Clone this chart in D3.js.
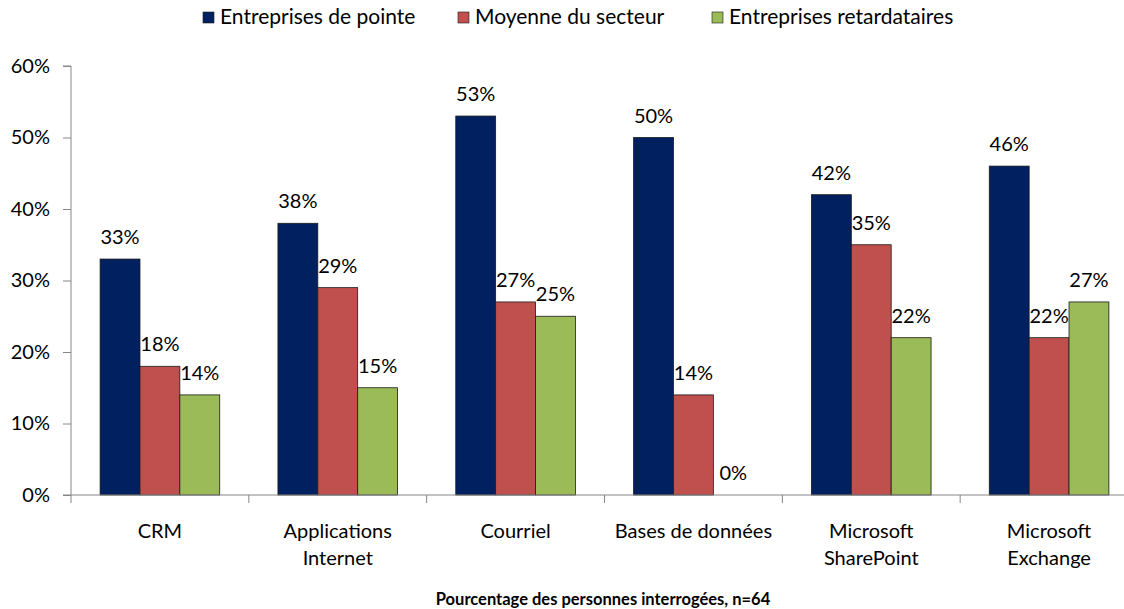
<!DOCTYPE html>
<html>
<head>
<meta charset="utf-8">
<script src="https://cdn.jsdelivr.net/npm/d3@7"></script>
<style>
  body { margin: 0; background: #fff; }
  svg { font-family: Lato, "Open Sans", sans-serif; }
</style>
</head>
<body>
<div id="chart"></div>
<script>
const categories = [["CRM"], ["Applications", "Internet"], ["Courriel"], ["Bases de données"], ["Microsoft", "SharePoint"], ["Microsoft", "Exchange"]];
const seriesNames = ["Entreprises de pointe", "Moyenne du secteur", "Entreprises retardataires"];
const leaders = [33, 38, 53, 50, 42, 46];
const average = [18, 29, 27, 14, 35, 22];
const laggards = [14, 15, 25, 0, 22, 27];
const yTicks = [0, 10, 20, 30, 40, 50, 60];
const colors = ["#002060", "#C0504D", "#9BBB59"];

const width = 1124, height = 609;
const svg = d3.select("#chart").append("svg")
  .attr("width", width).attr("height", height);

// plot area runs past the right edge, as in the original crop
const x0 = d3.scaleBand().domain(d3.range(categories.length)).range([71, 1138]);
const x1 = d3.scaleBand().domain(d3.range(3)).range([0, x0.bandwidth()]).paddingOuter(0.73).paddingInner(0);
const y = d3.scaleLinear().domain([0, 60]).range([495, 66]);

const axisColor = "#868686";

// Y axis
const yAxis = svg.append("g")
  .attr("transform", "translate(71,0)")
  .call(d3.axisLeft(y).tickValues(yTicks).tickSize(8).tickPadding(13).tickFormat(d => d + "%"));
yAxis.select(".domain").attr("stroke", axisColor).attr("d", `M-8,${y(60)}H0V${y(0)}`);
yAxis.selectAll(".tick line").attr("stroke", axisColor);
yAxis.selectAll(".tick text").attr("font-size", 20).attr("fill", "#000").attr("font-family", "Lato, sans-serif");

// Bars
const series = [leaders, average, laggards];
const groups = svg.append("g").selectAll("g")
  .data(categories)
  .join("g")
  .attr("transform", (d, i) => `translate(${x0(i)},0)`);

groups.each(function(c, i) {
  const g = d3.select(this);
  series.forEach((s, k) => {
    const v = s[i];
    g.append("rect")
      .attr("x", x1(k))
      .attr("y", y(v))
      .attr("width", x1.bandwidth())
      .attr("height", y(0) - y(v))
      .attr("fill", colors[k])
      .attr("stroke", v > 0 ? "#1a1a1a" : "none")
      .attr("stroke-width", 0.8);
    g.append("text")
      .attr("x", x1(k) + x1.bandwidth() / 2)
      .attr("y", y(v) - 15)
      .attr("text-anchor", "middle")
      .attr("font-size", 20)
      .text(v + "%");
  });
});

// X axis
const xAxis = svg.append("g");
xAxis.append("line")
  .attr("x1", 63).attr("x2", 1138)
  .attr("y1", y(0)).attr("y2", y(0))
  .attr("stroke", axisColor);
xAxis.selectAll("line.tick")
  .data(d3.range(categories.length + 1))
  .join("line")
  .attr("class", "tick")
  .attr("x1", i => 71 + i * x0.step()).attr("x2", i => 71 + i * x0.step())
  .attr("y1", y(0)).attr("y2", y(0) + 8)
  .attr("stroke", axisColor);
xAxis.selectAll("text")
  .data(categories)
  .join("text")
  .attr("text-anchor", "middle")
  .attr("font-size", 20)
  .attr("transform", (d, i) => `translate(${x0(i) + x0.bandwidth() / 2},538)`)
  .selectAll("tspan")
  .data(d => d)
  .join("tspan")
  .attr("x", 0)
  .attr("dy", (d, j) => j === 0 ? 0 : 27)
  .text(d => d);

svg.append("text")
  .attr("x", 603).attr("y", 605)
  .attr("text-anchor", "middle")
  .attr("font-size", 16.5)
  .attr("font-weight", "bold")
  .text("Pourcentage des personnes interrogées, n=64");

// Legend
const legendX = [203, 458, 712];
const legend = svg.append("g").selectAll("g")
  .data(seriesNames)
  .join("g")
  .attr("transform", (d, i) => `translate(${legendX[i]},12)`);
legend.append("rect")
  .attr("width", 11).attr("height", 11)
  .attr("fill", (d, i) => colors[i])
  .attr("stroke", "#1a1a1a").attr("stroke-width", 0.6);
legend.append("text")
  .attr("x", 17).attr("y", 12)
  .attr("font-size", 21)
  .text(d => d);
</script>
</body>
</html>
